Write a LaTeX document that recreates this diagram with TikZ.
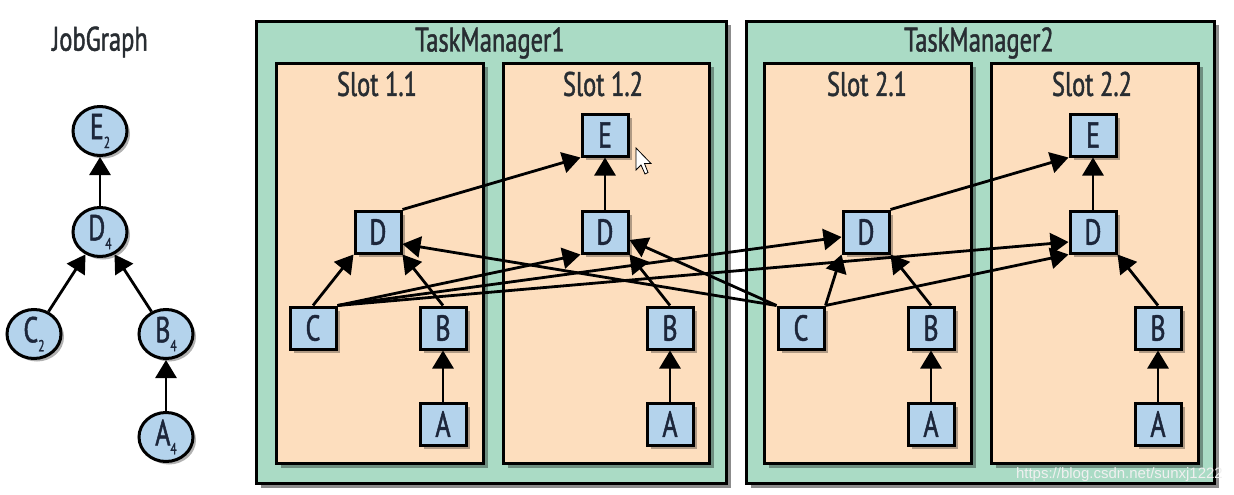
\documentclass[tikz,border=0pt]{standalone}
\usepackage{fontspec}
\setmainfont[FakeStretch=0.72,FakeBold=1.3]{PT Sans}
\newfontfamily\wmfont{Liberation Sans}
\usetikzlibrary{arrows.meta,shadows,calc,shapes.geometric}
\definecolor{tmgreen}{RGB}{170,219,197}
\definecolor{slotpeach}{RGB}{253,222,190}
\definecolor{opblue}{RGB}{180,211,236}
\definecolor{txt}{RGB}{28,38,58}
\definecolor{ttl}{RGB}{40,45,50}
\newcommand{\jsub}[2]{#1\raisebox{-0.5ex}{\fontsize{16}{16}\selectfont #2}}
\begin{document}
\begin{tikzpicture}[x=1pt,y=-1pt,
  tmbox/.style={draw=black, line width=3pt, fill=tmgreen, inner sep=0pt, anchor=north west,
     drop shadow={shadow xshift=4pt, shadow yshift=-4pt, opacity=0.45, fill=black}},
  slotbox/.style={draw=black, line width=3pt, fill=slotpeach, inner sep=0pt, anchor=north west,
     drop shadow={shadow xshift=4pt, shadow yshift=-4pt, opacity=0.35, fill=black}},
  title/.style={text=ttl, font=\fontsize{34}{34}\selectfont, inner sep=0pt},
  op/.style={draw=black, line width=3pt, fill=opblue, minimum width=46pt, minimum height=42pt,
     inner sep=0pt, text=txt, font=\fontsize{36}{36}\selectfont,
     drop shadow={shadow xshift=3.5pt, shadow yshift=-3.5pt, opacity=0.3, fill=black}},
  jg/.style={ellipse, draw=black, line width=3pt, fill=opblue, minimum width=54pt, minimum height=49pt,
     inner sep=0pt, text=txt, font=\fontsize{36}{36}\selectfont,
     drop shadow={shadow xshift=3pt, shadow yshift=-3pt, opacity=0.3, fill=black}},
  arr/.style={-{Triangle[length=18pt,width=21pt]}, line width=2.8pt, draw=black}
]
\useasboundingbox[fill=white] (0,0) rectangle (1234,495);

% JobGraph
\node[title] (jgt) at (100,42) {JobGraph};
\node[jg] (E) at (100,131) {\jsub{E}{2}};
\node[jg] (D) at (100,232) {\jsub{D}{4}};
\node[jg] (C) at (34,334) {\jsub{C}{2}};
\node[jg] (B) at (166,334) {\jsub{B}{4}};
\node[jg] (A) at (166,437) {\jsub{A}{4}};
\draw[arr] (D) -- (E);
\draw[arr] (C) -- (D);
\draw[arr] (B) -- (D);
\draw[arr] (A) -- (B);

% Task managers
\node[tmbox, minimum width=470pt, minimum height=462pt] (tm1) at (255,20) {};
\node[tmbox, minimum width=468pt, minimum height=462pt] (tm2) at (745,20) {};
\node[title] (tm1t) at (490,43) {TaskManager1};
\node[title] (tm2t) at (979,43) {TaskManager2};

% Slots
\node[slotbox, minimum width=207pt, minimum height=400pt] (s11) at (275,62) {};
\node[slotbox, minimum width=206pt, minimum height=400pt] (s12) at (502,62) {};
\node[slotbox, minimum width=207pt, minimum height=400pt] (s21) at (763,62) {};
\node[slotbox, minimum width=207pt, minimum height=400pt] (s22) at (990,62) {};
\node[title] (s11t) at (377,84) {Slot 1.1};
\node[title] (s12t) at (603,84) {Slot 1.2};
\node[title] (s21t) at (867,84) {Slot 2.1};
\node[title] (s22t) at (1092,84) {Slot 2.2};

% Operators
\node[op] (E12) at (605,135) {E};
\node[op] (D11) at (378,232) {D};
\node[op] (D12) at (605,232) {D};
\node[op] (C11) at (313,328) {C};
\node[op] (B11) at (443,328) {B};
\node[op] (A11) at (443,424) {A};
\node[op] (B12) at (670,328) {B};
\node[op] (A12) at (670,424) {A};
\node[op] (E22) at (1093,135) {E};
\node[op] (D21) at (866,232) {D};
\node[op] (D22) at (1093,232) {D};
\node[op] (C21) at (801,328) {C};
\node[op] (B21) at (931,328) {B};
\node[op] (A21) at (931,424) {A};
\node[op] (B22) at (1158,328) {B};
\node[op] (A22) at (1158,424) {A};

% Edges
\draw[arr] (A11.north) -- (B11.south);
\draw[arr] (A12.north) -- (B12.south);
\draw[arr] (A21.north) -- (B21.south);
\draw[arr] (A22.north) -- (B22.south);
\draw[arr] (C11.north) -- (D11.south west);
\draw[arr] (B11.north) -- (D11.south east);
\draw[arr] (B12.north) -- (D12.south east);
\draw[arr] (B21.north) -- (D21.south east);
\draw[arr] (B22.north) -- (D22.south east);
\draw[arr] (D11.north east) -- (E12.south west);
\draw[arr] (D12.north) -- (E12.south);
\draw[arr] (D21.north east) -- (E22.south west);
\draw[arr] (D22.north) -- (E22.south);
\draw[arr] (C11.north east) -- (D12.south west);
\draw[arr] (C11.north east) -- ($(D21.west)+(0,5)$);
\draw[arr] (C11.north east) -- ($(D22.west)+(0,10)$);
\draw[arr] (C21.north east) -- (D21.south west);
\draw[arr] (C21.north east) -- (D22.south west);
\draw[arr] (C21.north west) -- ($(D11.east)+(0,12)$);
\draw[arr] (C21.north west) -- ($(D12.east)+(0,8)$);

% mouse pointer
\draw[line width=0.8pt, fill=white] (636,148) coordinate (cur) -- (636,170) -- (641,165) -- (645,174) -- (648,172.5) -- (644.5,163.5) -- (651,163.5) -- cycle;

% watermark
\node[text=gray!12, font=\wmfont\fontsize{15}{15}\selectfont, anchor=east, inner sep=0pt] (wm) at (1223,475) {https://blog.csdn.net/sunxj1222};
\end{tikzpicture}
\end{document}
